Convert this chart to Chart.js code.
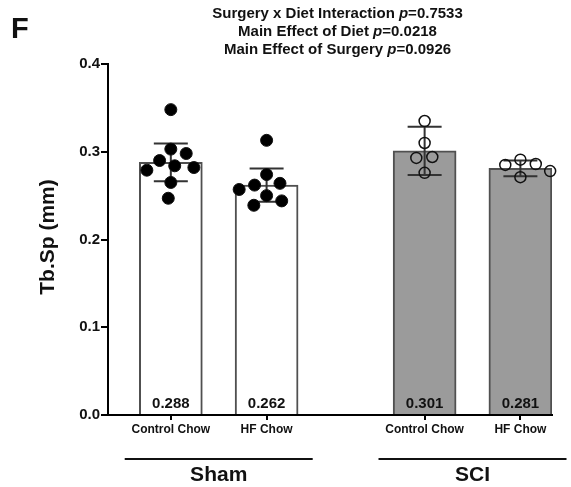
<!DOCTYPE html>
<html>
<head>
<meta charset="utf-8">
<script src="https://cdn.jsdelivr.net/npm/chart.js@4/dist/chart.umd.min.js"></script>
<style>
  html, body { margin: 0; padding: 0; background: #fff; }
</style>
</head>
<body>
<canvas id="myChart" width="571" height="487"></canvas>
<script>
// data
const categories = ['Control Chow', 'HF Chow', 'Control Chow', 'HF Chow'];
const groupNames = ['Sham', 'SCI'];
const meanValues = [0.288, 0.262, 0.301, 0.281];
const sdValues = [0.0215, 0.019, 0.0275, 0.009];
const shamControl = [0.348, 0.303, 0.298, 0.290, 0.284, 0.282, 0.279, 0.265, 0.247];
const shamHF = [0.313, 0.274, 0.264, 0.262, 0.257, 0.250, 0.244, 0.239];
const sciControl = [0.335, 0.310, 0.294, 0.293, 0.276];
const sciHF = [0.291, 0.286, 0.285, 0.278, 0.271];
const yTicks = [0, 0.1, 0.2, 0.3, 0.4];
const titleLines = [
    ['Surgery x Diet Interaction ', '=0.7533'],
    ['Main Effect of Diet ', '=0.0218'],
    ['Main Effect of Surgery ', '=0.0926']
];

const FONT = '"Liberation Sans", Arial, sans-serif';
const slotX = [1, 2, 3.65, 4.65]; // where each bar sits on the x axis
const points = [shamControl, shamHF, sciControl, sciHF];

// simple beeswarm so the dots don't sit on top of each other
function swarm(values, center, chart) {
    const xs = chart.scales.x, ys = chart.scales.y;
    const unit = xs.getPixelForValue(1) - xs.getPixelForValue(0);
    const D = 16;
    const placed = [];
    const out = [];
    let bias = 0;
    const order = values.map((v, i) => i).sort((a, b) => values[b] - values[a]);
    order.forEach(i => {
        const py = ys.getPixelForValue(values[i]);
        const cands = [0];
        placed.forEach(p => {
            const dy = Math.abs(p.y - py);
            if (dy < D) {
                const dx = Math.sqrt(D * D - dy * dy);
                cands.push(p.x + dx, p.x - dx);
            }
        });
        // closest to centre first, lean away from the heavier side on ties
        cands.sort((a, b) => (Math.abs(a) - Math.abs(b)) || (a * bias - b * bias));
        const px = cands.find(c => placed.every(p => (p.x - c) ** 2 + (p.y - py) ** 2 >= D * D - 0.01));
        placed.push({ x: px, y: py });
        bias += px;
        out[i] = { x: center + px / unit, y: values[i] };
    });
    return out;
}

const extras = {
    id: 'extras',
    afterDatasetDraw(chart, args) {
        if (args.index !== 0) return;
        const ctx = chart.ctx, x = chart.scales.x, y = chart.scales.y;
        ctx.save();
        ctx.strokeStyle = '#333';
        ctx.lineWidth = 2;
        meanValues.forEach((m, i) => {
            const px = x.getPixelForValue(slotX[i]);
            const top = y.getPixelForValue(m + sdValues[i]);
            const bot = y.getPixelForValue(m - sdValues[i]);
            ctx.beginPath();
            ctx.moveTo(px, top); ctx.lineTo(px, bot);
            ctx.moveTo(px - 17, top); ctx.lineTo(px + 17, top);
            ctx.moveTo(px - 17, bot); ctx.lineTo(px + 17, bot);
            ctx.stroke();
        });
        // mean values printed at the bottom of each bar
        ctx.fillStyle = '#111';
        ctx.font = 'bold 15px ' + FONT;
        ctx.textAlign = 'center';
        ctx.textBaseline = 'middle';
        meanValues.forEach((m, i) => {
            ctx.fillText(m.toFixed(3), x.getPixelForValue(slotX[i]), y.bottom - 11);
        });
        ctx.restore();
    },
    afterDraw(chart) {
        const ctx = chart.ctx, x = chart.scales.x, y = chart.scales.y;
        ctx.save();
        ctx.fillStyle = '#111';

        // panel letter
        ctx.font = 'bold 29px ' + FONT;
        ctx.textAlign = 'left';
        ctx.textBaseline = 'alphabetic';
        ctx.fillText('F', 11, 38);

        // stats title, with italic p
        ctx.textBaseline = 'middle';
        titleLines.forEach((ln, k) => {
            const bold = 'bold 15px ' + FONT, ital = 'italic bold 15px ' + FONT;
            ctx.font = bold;
            const w1 = ctx.measureText(ln[0]).width, w3 = ctx.measureText(ln[1]).width;
            ctx.font = ital;
            const w2 = ctx.measureText('p').width;
            let sx = 337.5 - (w1 + w2 + w3) / 2;
            const ly = 13.5 + k * 18.2;
            ctx.font = bold; ctx.fillText(ln[0], sx, ly);
            ctx.font = ital; ctx.fillText('p', sx + w1, ly);
            ctx.font = bold; ctx.fillText(ln[1], sx + w1 + w2, ly);
        });

        // y axis title
        ctx.save();
        ctx.translate(48, 237);
        ctx.rotate(-Math.PI / 2);
        ctx.font = 'bold 21px ' + FONT;
        ctx.textAlign = 'center';
        ctx.fillText('Tb.Sp (mm)', 0, 0);
        ctx.restore();

        // group lines + labels
        ctx.strokeStyle = '#111';
        ctx.lineWidth = 2;
        ctx.font = 'bold 21px ' + FONT;
        ctx.textAlign = 'center';
        groupNames.forEach((g, k) => {
            const a = x.getPixelForValue(slotX[k * 2]), b = x.getPixelForValue(slotX[k * 2 + 1]);
            const mid = (a + b) / 2;
            ctx.beginPath();
            ctx.moveTo(mid - 94, 459);
            ctx.lineTo(mid + 94, 459);
            ctx.stroke();
            ctx.fillText(g, mid, 475);
        });
        ctx.restore();
    }
};

const ctx = document.getElementById('myChart');

const chart = new Chart(ctx, {
    type: 'bar',
    data: {
        datasets: [{
            type: 'bar',
            data: meanValues.map((v, i) => ({ x: slotX[i], y: v })),
            backgroundColor: ['#ffffff', '#ffffff', '#9b9b9b', '#9b9b9b'],
            borderColor: '#505050',
            borderWidth: 2,
            barThickness: 63,
            order: 2
        }].concat(points.map((vals, i) => ({
            type: 'scatter',
            data: vals.map(v => ({ x: slotX[i], y: v })),
            pointRadius: i < 2 ? 6 : 5.5,
            backgroundColor: i < 2 ? '#000' : 'rgba(0,0,0,0)',
            borderColor: '#111',
            borderWidth: i < 2 ? 1 : 1.5,
            clip: false,
            order: 1
        })))
    },
    options: {
        responsive: false,
        animation: false,
        devicePixelRatio: 1,
        layout: { padding: { top: 64, right: 19, bottom: 0, left: 0 } },
        plugins: {
            legend: { display: false },
            tooltip: { enabled: false }
        },
        scales: {
            x: {
                type: 'linear',
                min: 0.344,
                max: 4.98,
                offset: false,
                afterBuildTicks: s => { s.ticks = slotX.map(v => ({ value: v })); },
                afterFit: s => { s.height = 72; },
                ticks: {
                    callback: (v, i) => categories[i],
                    font: { family: FONT, size: 12, weight: 'bold' },
                    color: '#111',
                    padding: 2,
                    maxRotation: 0,
                    autoSkip: false
                },
                grid: { offset: false, drawOnChartArea: false, tickLength: 5, color: '#000', lineWidth: 2 },
                border: { color: '#000', width: 2 }
            },
            y: {
                min: 0,
                max: 0.4,
                afterBuildTicks: s => { s.ticks = yTicks.map(v => ({ value: v })); },
                afterFit: s => { s.width = 108; },
                ticks: {
                    callback: v => v.toFixed(1),
                    font: { family: FONT, size: 15, weight: 'bold' },
                    color: '#111',
                    padding: 1
                },
                grid: { drawOnChartArea: false, tickLength: 7, color: '#000', lineWidth: 2 },
                border: { color: '#000', width: 2 }
            }
        }
    },
    plugins: [extras]
});

// spread the dots once the scales exist
points.forEach((vals, i) => {
    chart.data.datasets[i + 1].data = swarm(vals, slotX[i], chart);
});
chart.update('none');
</script>
</body>
</html>
